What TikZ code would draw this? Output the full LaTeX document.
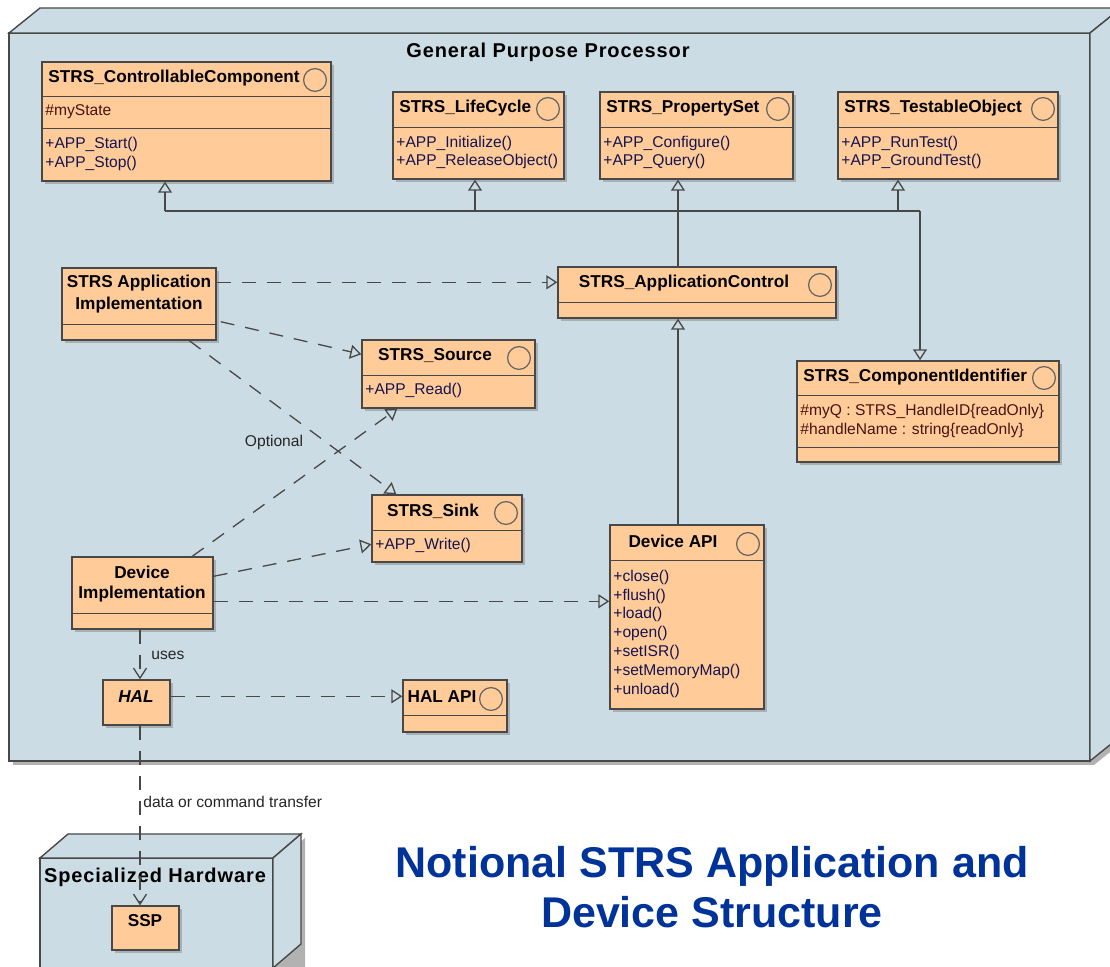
\documentclass[tikz,border=0pt]{standalone}
\usepackage{fontspec}
\setmainfont{Liberation Sans}
\usetikzlibrary{arrows.meta,shadows,fit,calc}
\definecolor{bg}{RGB}{204,220,228}
\definecolor{boxfill}{RGB}{255,204,153}
\definecolor{edge}{RGB}{72,72,72}
\definecolor{attrc}{RGB}{70,20,20}
\definecolor{operc}{RGB}{20,20,80}
\definecolor{ifacec}{RGB}{100,100,100}
\definecolor{titleblue}{RGB}{0,51,153}
\newcommand\clsfont{\fontsize{8.6}{10}\selectfont\bfseries}
\newcommand\memfont{\fontsize{7.8}{9}\selectfont}
\newcommand\nodefont{\fontsize{10}{12}\selectfont\bfseries\addfontfeature{LetterSpace=4.5}}
\begin{document}
\begin{tikzpicture}[x=0.5pt,y=-0.5pt,
  classbox/.style={draw=edge, fill=boxfill, line width=0.7pt, inner sep=0pt,
    drop shadow={shadow xshift=1.6pt, shadow yshift=-1.6pt, fill=black!45, opacity=0.55}},
  sepline/.style={draw=edge, line width=0.6pt},
  ctitle/.style={font=\clsfont, inner sep=0pt, anchor=west, text=black},
  ctitlec/.style={font=\clsfont, inner sep=0pt, text=black},
  cmem/.style={font=\memfont, inner sep=0pt, anchor=west, text=operc},
  cattr/.style={font=\memfont, inner sep=0pt, anchor=west, text=attrc},
  iface/.style={circle, draw=ifacec, line width=0.6pt, minimum size=11.4pt, inner sep=0pt},
  conn/.style={draw=edge, line width=0.65pt},
  gen/.style={conn, -{Triangle[open, length=5.5pt, width=7pt]}},
  real/.style={conn, dash pattern=on 7pt off 5.5pt, -{Triangle[open, length=5.5pt, width=7pt]}},
  dep/.style={conn, dash pattern=on 7pt off 5.5pt, -{Straight Barb[length=5pt, width=6.5pt]}},
  lbl/.style={font=\memfont, inner sep=0pt, text=black!85},
  node3d/.style={draw=edge, fill=bg, line width=0.7pt, line join=miter}
]
\fill[white] (0,0) rectangle (1110,967);
\useasboundingbox (0,0) rectangle (1110,967);

% ---- General Purpose Processor (3D node)
\fill[black!30] (13,37) -- (1094,37) -- (1125,12) -- (1125,740) -- (1094,765) -- (13,765) -- cycle;
\filldraw[node3d] (9,33) rectangle (1090,761);
\filldraw[node3d] (9,33) -- (40,8) -- (1121,8) -- (1090,33) -- cycle;
\filldraw[node3d] (1090,33) -- (1121,8) -- (1121,736) -- (1090,761) -- cycle;
\node[font=\nodefont, inner sep=0pt] (gpp) at (548,52) {General Purpose Processor};

% ---- Specialized Hardware (3D node)
\fill[black!30] (44,862) -- (277,862) -- (305,838) -- (305,990) -- (44,990) -- cycle;
\filldraw[node3d] (40,858) rectangle (273,990);
\filldraw[node3d] (40,858) -- (68,834) -- (301,834) -- (273,858) -- cycle;
\filldraw[node3d] (273,858) -- (301,834) -- (301,944) -- (273,968) -- cycle;
\node[font=\nodefont, inner sep=0pt] (sh) at (155,877) {Specialized Hardware};

% ---- STRS_ControllableComponent
\node[classbox, fit={(42,62) (331,181)}] (CC) {};
\draw[sepline] ($(CC.north west)+(0,35)$) -- ($(CC.north east)+(0,35)$);
\draw[sepline] ($(CC.north west)+(0,67)$) -- ($(CC.north east)+(0,67)$);
\node[ctitle] (CCt) at (48,78) {STRS\_ControllableComponent};
\node[iface] (CCi) at (315,80) {};
\node[cattr] (CCa1) at (45,112) {\#myState};
\node[cmem] (CCo1) at (45,144) {+APP\_Start()};
\node[cmem] (CCo2) at (45,163) {+APP\_Stop()};

% ---- STRS_LifeCycle
\node[classbox, fit={(393,92) (564,179)}] (LC) {};
\draw[sepline] ($(LC.north west)+(0,36)$) -- ($(LC.north east)+(0,36)$);
\node[ctitle] (LCt) at (399,108) {STRS\_LifeCycle};
\node[iface] (LCi) at (548,109) {};
\node[cmem] (LCo1) at (396,143) {+APP\_Initialize()};
\node[cmem] (LCo2) at (396,161) {+APP\_ReleaseObject()};

% ---- STRS_PropertySet
\node[classbox, fit={(600,92) (793,179)}] (PS) {};
\draw[sepline] ($(PS.north west)+(0,36)$) -- ($(PS.north east)+(0,36)$);
\node[ctitle] (PSt) at (606,108) {STRS\_PropertySet};
\node[iface] (PSi) at (778,109) {};
\node[cmem] (PSo1) at (603,143) {+APP\_Configure()};
\node[cmem] (PSo2) at (603,161) {+APP\_Query()};

% ---- STRS_TestableObject
\node[classbox, fit={(838,92) (1058,179)}] (TO) {};
\draw[sepline] ($(TO.north west)+(0,36)$) -- ($(TO.north east)+(0,36)$);
\node[ctitle] (TOt) at (844,108) {STRS\_TestableObject};
\node[iface] (TOi) at (1043,109) {};
\node[cmem] (TOo1) at (841,143) {+APP\_RunTest()};
\node[cmem] (TOo2) at (841,161) {+APP\_GroundTest()};

% ---- STRS_ApplicationControl
\node[classbox, fit={(558,267) (836,318)}] (AC) {};
\draw[sepline] ($(AC.north west)+(0,36)$) -- ($(AC.north east)+(0,36)$);
\node[ctitlec] (ACt) at (684,283) {STRS\_ApplicationControl};
\node[iface] (ACi) at (820,285) {};

% ---- STRS_ComponentIdentifier
\node[classbox, fit={(797,361) (1059,462)}] (CI) {};
\draw[sepline] ($(CI.north west)+(0,35)$) -- ($(CI.north east)+(0,35)$);
\draw[sepline] ($(CI.north west)+(0,87)$) -- ($(CI.north east)+(0,87)$);
\node[ctitle] (CIt) at (803,377) {STRS\_ComponentIdentifier};
\node[iface] (CIi) at (1044,378) {};
\node[cattr] (CIa1) at (800,411) {\#myQ : STRS\_HandleID\{readOnly\}};
\node[cattr] (CIa2) at (800,430) {\#handleName : string\{readOnly\}};

% ---- STRS Application Implementation
\node[classbox, fit={(62,268) (216,340)}] (AI) {};
\draw[sepline] ($(AI.north west)+(0,57)$) -- ($(AI.north east)+(0,57)$);
\node[ctitlec] (AIt1) at (139,283) {STRS Application};
\node[ctitlec] (AIt2) at (139,305) {Implementation};

% ---- STRS_Source
\node[classbox, fit={(362,340) (535,408)}] (SRC) {};
\draw[sepline] ($(SRC.north west)+(0,36)$) -- ($(SRC.north east)+(0,36)$);
\node[ctitlec] (SRCt) at (435,356) {STRS\_Source};
\node[iface] (SRCi) at (519,358) {};
\node[cmem] (SRCo1) at (365,390) {+APP\_Read()};

% ---- STRS_Sink
\node[classbox, fit={(372,495) (522,562)}] (SNK) {};
\draw[sepline] ($(SNK.north west)+(0,36)$) -- ($(SNK.north east)+(0,36)$);
\node[ctitlec] (SNKt) at (433,511) {STRS\_Sink};
\node[iface] (SNKi) at (506,513) {};
\node[cmem] (SNKo1) at (375,545) {+APP\_Write()};

% ---- Device Implementation
\node[classbox, fit={(72,557) (213,629)}] (DI) {};
\draw[sepline] ($(DI.north west)+(0,57)$) -- ($(DI.north east)+(0,57)$);
\node[ctitlec] (DIt1) at (142,572) {Device};
\node[ctitlec] (DIt2) at (142,594) {Implementation};

% ---- Device API
\node[classbox, fit={(610,525) (764,709)}] (DA) {};
\draw[sepline] ($(DA.north west)+(0,36)$) -- ($(DA.north east)+(0,36)$);
\node[ctitlec] (DAt) at (673,541) {Device API};
\node[iface] (DAi) at (748,544) {};
\node[cmem] (DAo1) at (613,577) {+close()};
\node[cmem] (DAo2) at (613,596) {+flush()};
\node[cmem] (DAo3) at (613,614) {+load()};
\node[cmem] (DAo4) at (613,633) {+open()};
\node[cmem] (DAo5) at (613,652) {+setISR()};
\node[cmem] (DAo6) at (613,671) {+setMemoryMap()};
\node[cmem] (DAo7) at (613,690) {+unload()};

% ---- HAL
\node[classbox, fit={(103,680) (170,725)}] (HAL) {};
\node[ctitlec, font=\clsfont\itshape] (HALt) at (136,697) {HAL};

% ---- HAL API
\node[classbox, fit={(403,680) (507,732)}] (HAPI) {};
\draw[sepline] ($(HAPI.north west)+(0,36)$) -- ($(HAPI.north east)+(0,36)$);
\node[ctitlec] (HAPIt) at (442,697) {HAL API};
\node[iface] (HAPIi) at (491,699) {};

% ---- SSP
\node[classbox, fit={(112,906) (179,950)}] (SSP) {};
\node[ctitlec] (SSPt) at (145,921) {SSP};

% ---- generalization tree
\coordinate (busL) at (165,211);
\coordinate (busR) at (920,211);
\coordinate (jLC) at (475,211);
\coordinate (jTO) at (898,211);
\coordinate (xPS) at (678,211);
\coordinate (xU) at (140,640);
\draw[conn] (busL) -- (busR);
\draw[gen] (busL) -- (CC.south -| busL);
\draw[gen] (jLC) -- (LC.south -| jLC);
\draw[gen] (jTO) -- (TO.south -| jTO);
\draw[gen] (busR) -- (CI.north -| busR);
\draw[gen] (AC.north -| xPS) -- (PS.south -| xPS);
\draw[gen] (DA.north -| xPS) -- (AC.south -| xPS);

% ---- realizations
\draw[real] ($(AI.north east)+(0,15)$) -- ($(AC.north west)+(0,16)$);
\draw[real] ($(AI.south east)+(4,-19)$) -- ($(SRC.north west)+(0,15)$);
\draw[real] ($(AI.south west)+(128,0)$) -- ($(SNK.north west)+(25,0)$);
\draw[real] ($(DI.north west)+(121,0)$) -- ($(SRC.south west)+(36,0)$);
\draw[real] ($(DI.north east)+(0,20)$) -- ($(SNK.north west)+(0,50)$);
\draw[real] ($(DI.north east)+(0,45)$) -- ($(DA.north west)+(0,77)$);
\draw[real] ($(HAL.north east)+(0,17)$) -- ($(HAPI.north west)+(0,17)$);

% ---- dependencies
\draw[dep] (DI.south -| xU) -- (HAL.north -| xU);
\draw[dep] (HAL.south -| xU) -- (SSP.north -| xU);

% ---- labels
\node[lbl, anchor=west] (uses) at (151,655) {uses};
\node[lbl] (opt) at (274,442) {Optional};
\node[lbl, anchor=west] (dct) at (143,802) {data or command transfer};

% ---- title
\node[font={\fontsize{21.5}{25}\selectfont\bfseries}, text=titleblue, align=center, inner sep=0pt] (title) at (712,887) {Notional STRS Application and\\Device Structure};
\end{tikzpicture}
\end{document}
